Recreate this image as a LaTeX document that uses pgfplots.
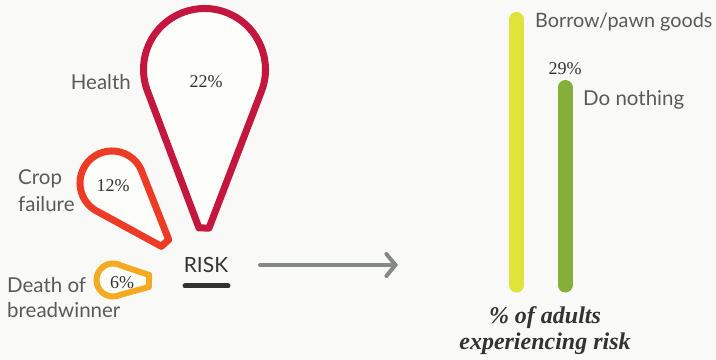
\documentclass[border=0pt]{standalone}
\usepackage{pgfplots}
\pgfplotsset{compat=1.18}
\usetikzlibrary{calc,arrows.meta}
\usepackage{fontspec}
\setmainfont{Lato}
\newfontfamily\serif{Liberation Serif}

\definecolor{bg}{HTML}{F9F9F7}
\definecolor{dropfill}{HTML}{FDFDF9}
\definecolor{health}{HTML}{C4173F}
\definecolor{crop}{HTML}{EE3B26}
\definecolor{death}{HTML}{F5AA23}
\definecolor{borrow}{HTML}{DFE33A}
\definecolor{nothing}{HTML}{84AF3A}
\definecolor{txt}{HTML}{5A5A5A}
\definecolor{dark}{HTML}{333333}
\definecolor{arrowgray}{HTML}{858985}

\pgfplotsset{canvas/.style={width=716bp, height=360bp, scale only axis,
    xmin=0, xmax=716, hide axis, clip=false}}

% teardrop: colour, line width, centre x, centre y, radius, tip x, tip y, tip half width
\newcommand\drop[8]{%
  \draw[#1, line width=#2bp, fill=dropfill, line join=round]
    let \p1=(axis cs:#6,#7), \p2=(axis cs:#3,#4),
        \n1={atan2(\y1-\y2,\x1-\x2)},
        \n2={acos((#5*1.00375)/veclen(\x1-\x2,\y1-\y2))} in
    ($(\p1)+(\n1+90:#8bp)$) -- ($(\p2)+(\n1+\n2:#5bp)$)
    arc[start angle=\n1+\n2, end angle=\n1-\n2+360, radius=#5bp]
    -- ($(\p1)+(\n1-90:#8bp)$) -- cycle;}

\tikzset{
  lab/.style={txt, inner sep=0pt, font=\fontsize{20.5bp}{27bp}\selectfont},
  val/.style={dark, inner sep=0pt, font=\serif\fontsize{18bp}{22bp}\selectfont}}

\begin{document}
\begin{tikzpicture}
\useasboundingbox (0,0) rectangle (716bp,360bp);
\fill[bg] (0,0) rectangle (716bp,360bp);

% risks (y measured upwards)
\begin{axis}[canvas, ymin=0, ymax=360]
\drop{health}{7}{204.5}{290.5}{61}{204}{132}{5}
\drop{crop}{7}{112}{177}{32}{165}{117}{5}
\drop{death}{6}{113}{80}{16.5}{149}{79}{6}

\node[lab, anchor=east] at (axis cs:131,278) {Health};
\node[val] at (axis cs:206,278) {22\%};
\node[lab, anchor=west, align=left] at (axis cs:18,169.5) {Crop\\failure};
\node[val] at (axis cs:113,174) {12\%};
\node[lab, anchor=west, align=left, font=\fontsize{20.5bp}{25bp}\selectfont]
  at (axis cs:7,62.5) {Death of\\breadwinner};
\node[val] at (axis cs:122,77) {6\%};

\node[dark, inner sep=0pt, font=\fontsize{21bp}{25bp}\selectfont] at (axis cs:206,95) {RISK};
\draw[dark, line width=5bp, line cap=round] (axis cs:185,74) -- (axis cs:228,74);
\draw[arrowgray, line width=4bp, line cap=round,
  -{Straight Barb[length=9bp, width=22bp, line cap=round]}]
  (axis cs:260,95) -- (axis cs:398,95);

\node[lab, anchor=west, font=\fontsize{19.8bp}{24bp}\selectfont]
  at (axis cs:535,338) {Borrow/pawn goods};
\node[lab, anchor=west] at (axis cs:583,260) {Do nothing};
\node[dark, align=center, inner sep=0pt,
  font=\serif\bfseries\itshape\fontsize{24bp}{26bp}\selectfont]
  at (axis cs:545,29) {\% of adults\\experiencing risk};
\end{axis}

% responses, % of adults
\begin{axis}[canvas, ymin=-11.01, ymax=41.85]
\addplot[borrow, line width=15bp, line cap=round] coordinates {(516.5,0) (516.5,39)};
\addplot[nothing, line width=15bp, line cap=round] coordinates {(565,0) (565,29)};
\node[val, yshift=18.5bp] at (axis cs:565,29) {29\%};
\end{axis}
\end{tikzpicture}
\end{document}
